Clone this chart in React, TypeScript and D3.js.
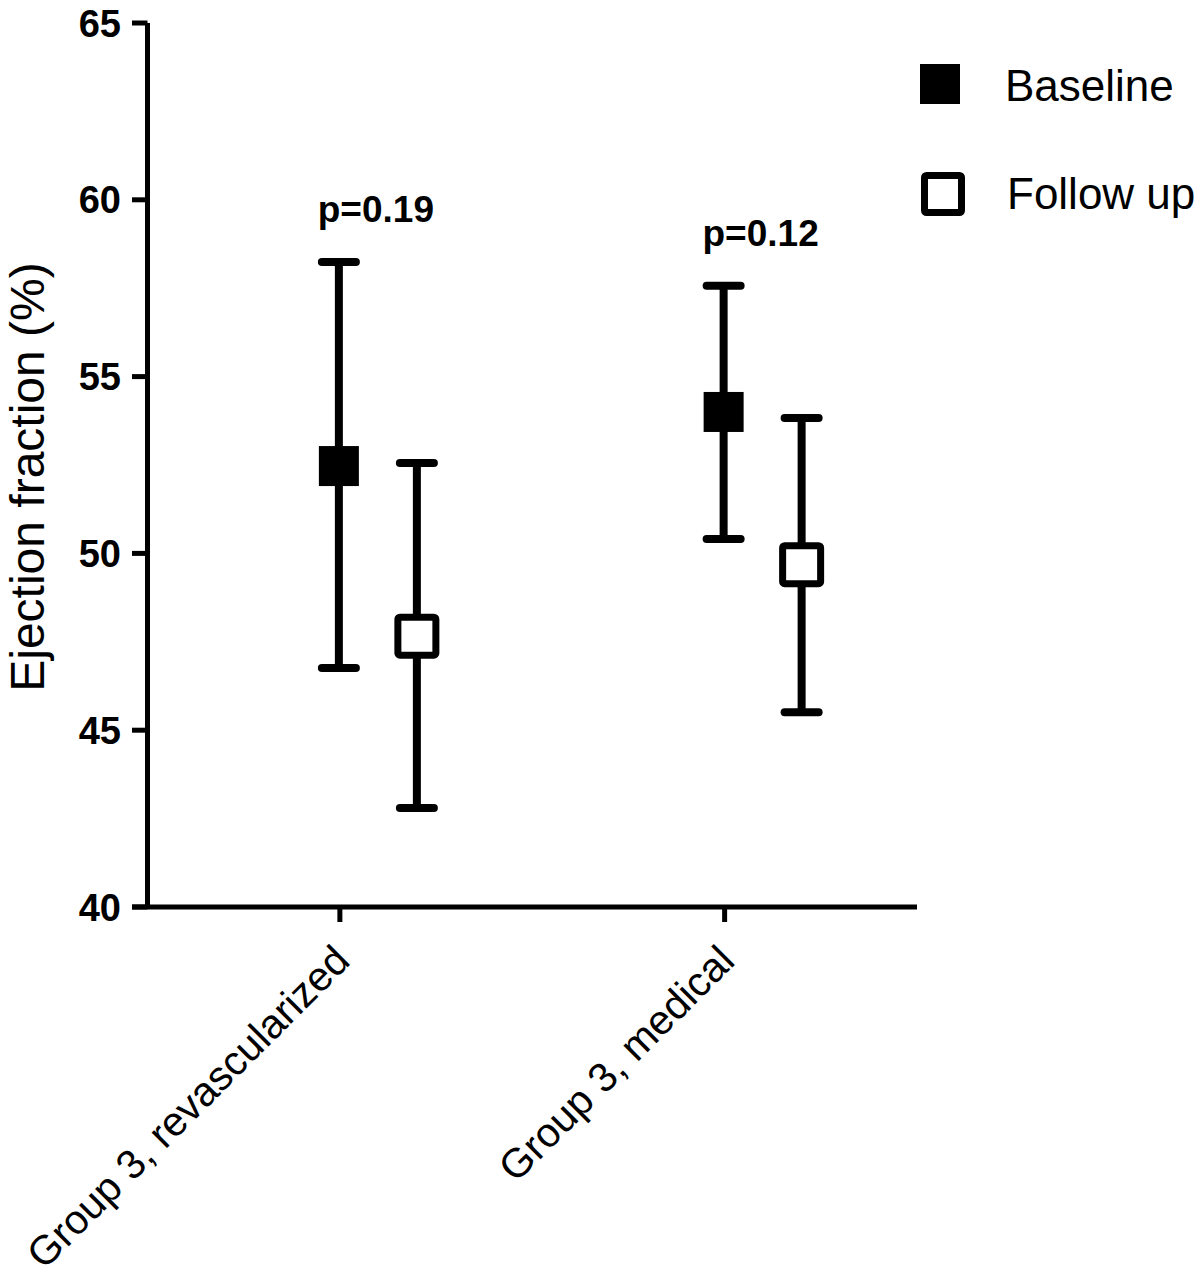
import React from "react";
import * as d3 from "d3";

const categories = ["Group 3, revascularized", "Group 3, medical"];
const seriesNames = ["Baseline", "Follow up"];
const baselineMean = [52.47, 54.0];
const baselineUpper = [58.24, 57.57];
const baselineLower = [46.76, 50.41];
const followMean = [47.66, 49.68];
const followUpper = [52.56, 53.83];
const followLower = [42.8, 45.51];
const pValues = ["p=0.19", "p=0.12"];
const yTicks = [40, 45, 50, 55, 60, 65];
const yTitle = "Ejection fraction (%)";

const FONT = "'Liberation Sans', Arial, Helvetica, sans-serif";

export default function App() {
  const W = 1200, H = 1284;
  const left = 147.5, right = 917, top = 23, bottom = 907;
  const y = d3.scaleLinear().domain([40, 65]).range([bottom, top]);
  const x = d3.scaleBand<string>().domain(categories).range([left, right]).padding(0);
  const cx = (c: string) => (x(c) as number) + x.bandwidth() / 2;
  const offsets = [-1, 77];

  const series = [
    { name: seriesNames[0], mean: baselineMean, up: baselineUpper, lo: baselineLower, filled: true },
    { name: seriesNames[1], mean: followMean, up: followUpper, lo: followLower, filled: false },
  ];

  return (
    <svg width={W} height={H} style={{ position: "absolute", left: 0, top: 0, background: "#fff" }}
      fontFamily={FONT}>
      <rect x={0} y={0} width={W} height={H} fill="#fff" />
      {/* axes */}
      <line x1={left} x2={left} y1={top} y2={bottom} stroke="#000" strokeWidth={5} />
      <line x1={132} x2={right} y1={bottom} y2={bottom} stroke="#000" strokeWidth={5} />
      {yTicks.map((t) => (
        <g key={t}>
          <line x1={132} x2={left} y1={y(t)} y2={y(t)} stroke="#000" strokeWidth={5} />
          <text x={121} y={y(t)} dy="0.36em" textAnchor="end" fontSize={38} fontWeight="bold">{t}</text>
        </g>
      ))}
      {categories.map((c) => (
        <g key={c}>
          <line x1={cx(c)} x2={cx(c)} y1={bottom} y2={bottom + 15} stroke="#000" strokeWidth={5} />
          <text transform={`translate(${cx(c) + 12},${bottom + 56}) rotate(-45)`} textAnchor="end" fontSize={41}>{c}</text>
        </g>
      ))}
      <text transform={`translate(44,477) rotate(-90)`} textAnchor="middle" fontSize={48}>{yTitle}</text>

      {/* error bars and markers */}
      {series.map((s, si) => (
        <g key={s.name}>
          {categories.map((c, i) => {
            const px = cx(c) + offsets[si];
            return (
              <g key={c}>
                <line x1={px} x2={px} y1={y(s.up[i])} y2={y(s.lo[i])} stroke="#000" strokeWidth={8} />
                <line x1={px - 17} x2={px + 17} y1={y(s.up[i])} y2={y(s.up[i])} stroke="#000" strokeWidth={8} strokeLinecap="round" />
                <line x1={px - 17} x2={px + 17} y1={y(s.lo[i])} y2={y(s.lo[i])} stroke="#000" strokeWidth={8} strokeLinecap="round" />
                {s.filled ? (
                  <rect x={px - 20} y={y(s.mean[i]) - 20} width={40} height={40} fill="#000" />
                ) : (
                  <rect x={px - 19} y={y(s.mean[i]) - 19} width={38} height={38} fill="#fff" stroke="#000" strokeWidth={7} rx={2} />
                )}
              </g>
            );
          })}
        </g>
      ))}

      {/* p values */}
      {categories.map((c, i) => (
        <text key={c} x={cx(c) + 36} y={y(Math.max(baselineUpper[i], followUpper[i])) - 40}
          textAnchor="middle" fontSize={37} fontWeight="bold">{pValues[i]}</text>
      ))}

      {/* legend */}
      <rect x={920} y={64} width={40} height={40} fill="#000" />
      <text x={1005} y={101} fontSize={44}>{seriesNames[0]}</text>
      <rect x={924.5} y={175.5} width={37} height={37} fill="#fff" stroke="#000" strokeWidth={7} rx={2} />
      <text x={1007} y={209} fontSize={44}>{seriesNames[1]}</text>
    </svg>
  );
}
